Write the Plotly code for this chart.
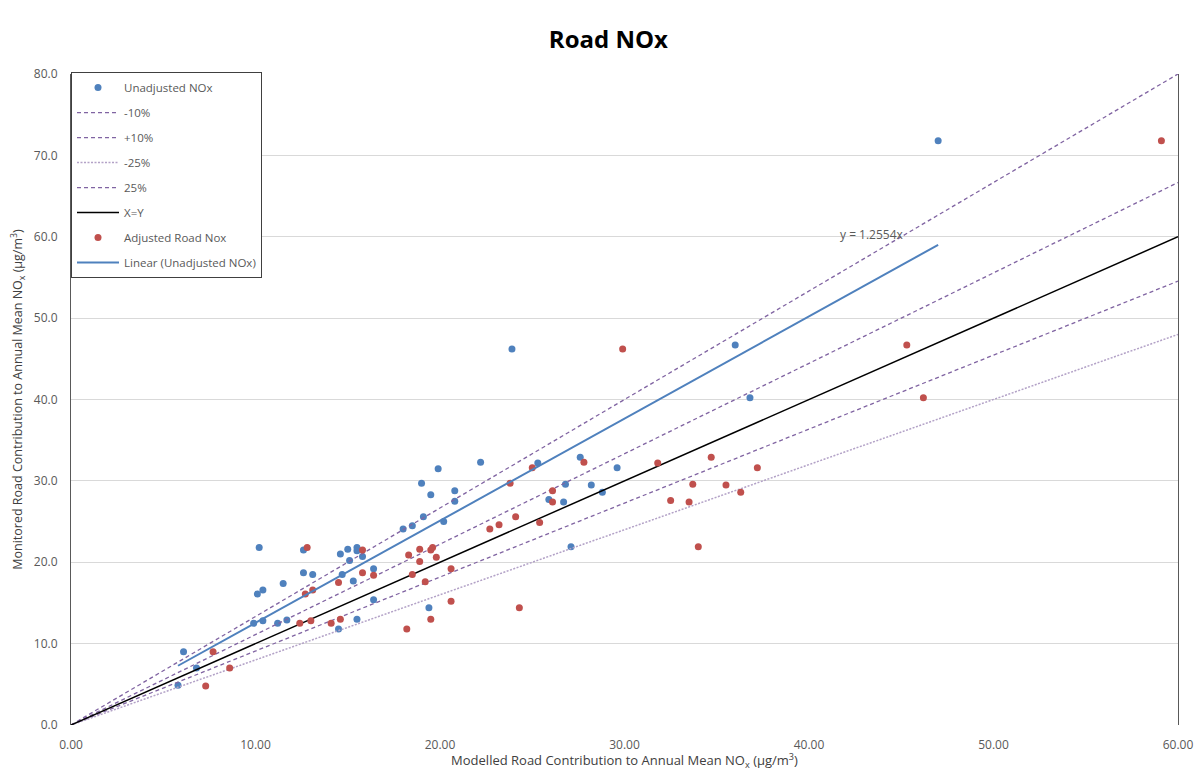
import plotly.graph_objects as go

# Unadjusted NOx (modelled x, monitored y)
unadj_x = [5.8, 6.1, 6.8, 9.9, 10.1, 10.2, 10.4, 10.4, 11.2, 11.5, 11.7, 12.6, 12.6, 13.1,
           14.5, 14.6, 14.7, 15.0, 15.1, 15.3, 15.5, 15.5, 15.5, 15.8, 16.4, 16.4, 18.0, 18.5,
           19.0, 19.1, 19.4, 19.5, 19.9, 20.2, 20.8, 20.8, 22.2, 23.9, 25.3, 25.9, 26.7, 26.8,
           27.1, 27.6, 28.2, 28.8, 29.6, 36.0, 36.8, 47.0]
unadj_y = [4.9, 9.0, 7.0, 12.5, 16.1, 21.8, 12.8, 16.6, 12.5, 17.4, 12.9, 21.5, 18.7, 18.5,
           11.8, 21.0, 18.5, 21.6, 20.2, 17.7, 21.8, 21.4, 13.0, 20.7, 19.2, 15.4, 24.1, 24.5,
           29.7, 25.6, 14.4, 28.3, 31.5, 25.0, 28.8, 27.5, 32.3, 46.2, 32.2, 27.7, 27.4, 29.6,
           21.9, 32.9, 29.5, 28.6, 31.6, 46.7, 40.2, 71.8]

# Adjusted Road NOx
adj_x = [7.3, 7.7, 8.6, 12.4, 12.7, 12.8, 13.0, 13.1, 14.1, 14.5, 14.6, 15.8, 15.8, 16.4,
         18.2, 18.3, 18.5, 18.9, 18.9, 19.2, 19.5, 19.6, 19.5, 19.8, 20.6, 20.6, 22.7, 23.2,
         23.8, 24.1, 24.3, 25.0, 25.4, 26.1, 26.1, 27.8, 29.9, 31.8, 32.5, 33.5, 33.7, 34.0,
         34.7, 35.5, 36.3, 37.2, 45.3, 46.2, 59.1]
adj_y = [4.8, 9.0, 7.0, 12.5, 16.1, 21.8, 12.8, 16.6, 12.5, 17.5, 13.0, 21.5, 18.7, 18.4,
         11.8, 20.9, 18.5, 21.6, 20.1, 17.6, 21.5, 21.8, 13.0, 20.6, 19.2, 15.2, 24.1, 24.6,
         29.7, 25.6, 14.4, 31.6, 24.9, 28.8, 27.4, 32.3, 46.2, 32.2, 27.6, 27.4, 29.6, 21.9,
         32.9, 29.5, 28.6, 31.6, 46.7, 40.2, 71.8]

trend_slope = 1.2554
ref_x = [0, 60]
x_ticks = [0, 10, 20, 30, 40, 50, 60]
y_ticks = [0, 10, 20, 30, 40, 50, 60, 70, 80]

BLUE = "#4F81BD"
RED = "#C0504D"
PURPLE = "#8064A2"
LPURPLE = "#B3A2C7"
GREY = "#595959"
DASH = "4px,3px"

fig = go.Figure()

fig.add_trace(go.Scatter(x=unadj_x, y=unadj_y, mode="markers", name="Unadjusted NOx",
                         marker=dict(color=BLUE, size=7), legendgroup="a"))
fig.add_trace(go.Scatter(x=ref_x, y=[v / 1.1 for v in ref_x], mode="lines", name="-10%",
                         line=dict(color=PURPLE, dash=DASH, width=1.3), legendgroup="b"))
fig.add_trace(go.Scatter(x=ref_x, y=[v / 0.9 for v in ref_x], mode="lines", name="+10%",
                         line=dict(color=PURPLE, dash=DASH, width=1.3), legendgroup="c"))
fig.add_trace(go.Scatter(x=ref_x, y=[v / 1.25 for v in ref_x], mode="lines", name="-25%",
                         line=dict(color=LPURPLE, dash="2px,1.5px", width=1.5), legendgroup="d"))
fig.add_trace(go.Scatter(x=ref_x, y=[v / 0.75 for v in ref_x], mode="lines", name="25%",
                         line=dict(color=PURPLE, dash=DASH, width=1.3), legendgroup="e"))
fig.add_trace(go.Scatter(x=ref_x, y=ref_x, mode="lines", name="X=Y",
                         line=dict(color="black", width=1.5), legendgroup="f"))
fig.add_trace(go.Scatter(x=adj_x, y=adj_y, mode="markers", name="Adjusted Road Nox",
                         marker=dict(color=RED, size=7), legendgroup="g"))
tx = [min(unadj_x), max(unadj_x)]
fig.add_trace(go.Scatter(x=tx, y=[v * trend_slope for v in tx], mode="lines",
                         name="Linear (Unadjusted NOx)",
                         line=dict(color=BLUE, width=2), legendgroup="h"))

fig.add_annotation(x=43.4, y=60.3, text="y = 1.2554x", showarrow=False,
                   font=dict(size=12, color=GREY))

fig.update_layout(
    width=1200, height=771,
    margin=dict(l=71, r=22, t=74, b=46),
    paper_bgcolor="white", plot_bgcolor="white",
    font=dict(family="Open Sans, sans-serif", color=GREY, size=12),
    title=dict(text="<b>Road NOx</b>", x=0.507, xanchor="center", y=0.948, yanchor="middle",
               font=dict(size=24, color="black")),
    legend=dict(x=0, y=1.003, xanchor="left", yanchor="top", bgcolor="white",
                bordercolor="#404040", borderwidth=1, tracegroupgap=6,
                itemwidth=42, font=dict(size=11.5, color=GREY)),
    showlegend=True,
)
fig.update_xaxes(range=[0, 60], tickvals=x_ticks, ticktext=[f"{v:.2f}" for v in x_ticks],
                 showgrid=False, zeroline=False, showline=False, ticks="",
                 automargin=False, ticklabelstandoff=11,
                 tickfont=dict(size=12, color=GREY),
                 title=dict(text="Modelled Road Contribution to Annual Mean NO<sub>x</sub> (µg/m<sup>3</sup>)",
                            font=dict(size=13, color="#404040"), standoff=7))
fig.update_yaxes(range=[0, 80], tickvals=y_ticks, ticktext=[f"{v:.1f}" for v in y_ticks],
                 showgrid=True, gridcolor="#D9D9D9", gridwidth=1, zeroline=False,
                 showline=True, linecolor="#595959", linewidth=1, mirror=True, ticks="",
                 automargin=False, ticklabelstandoff=10,
                 tickfont=dict(size=12, color=GREY),
                 title=dict(text="Monitored Road Contribution to Annual Mean NO<sub>x</sub> (µg/m<sup>3</sup>)",
                            font=dict(size=12.5, color="#404040"), standoff=8))

fig.write_html("out.html", config={"displayModeBar": False},
               post_script="document.body.style.margin='0';document.body.style.overflow='hidden';")
